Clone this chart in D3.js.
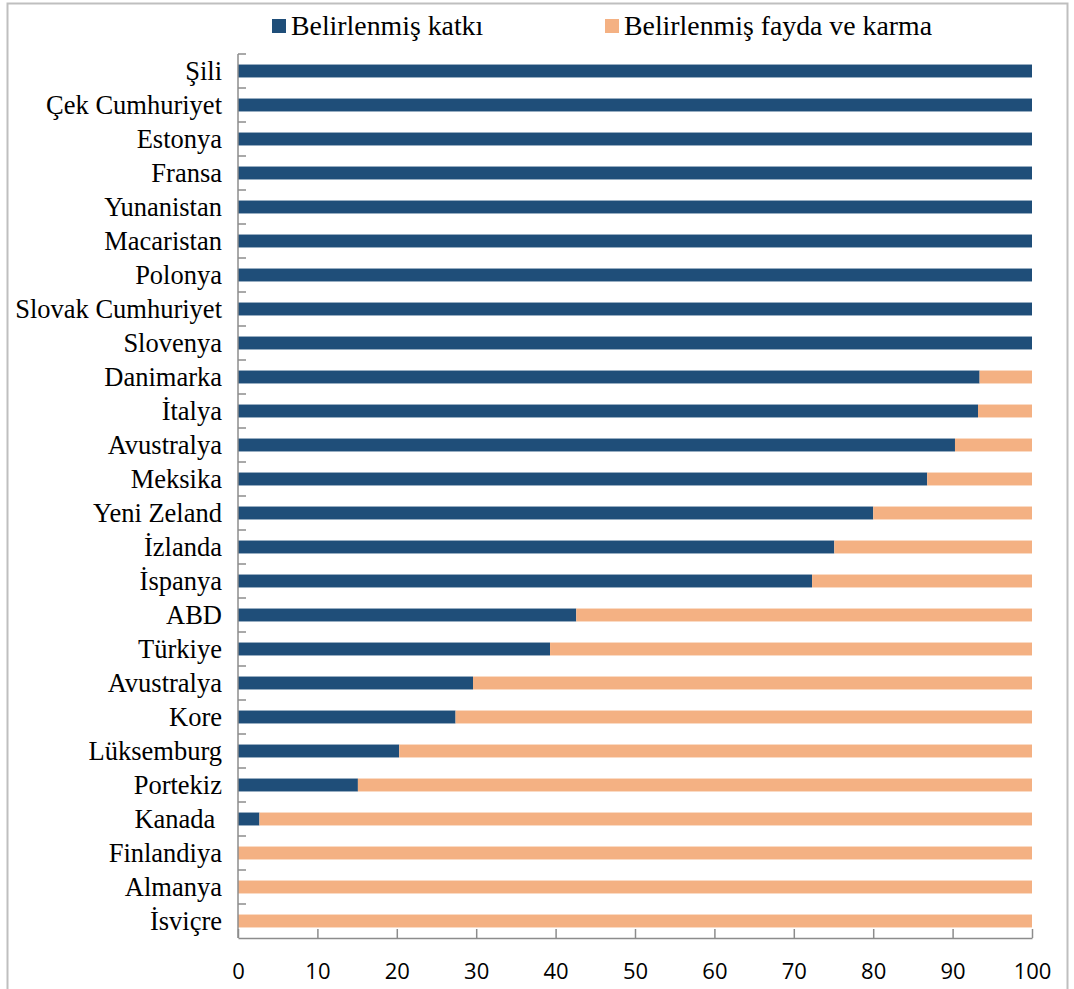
<!DOCTYPE html>
<html>
<head>
<meta charset="utf-8">
<script src="https://cdn.jsdelivr.net/npm/d3@7"></script>
<style>
  html, body { margin: 0; padding: 0; background: #fff; }
  svg { display: block; }
</style>
</head>
<body>
<svg id="chart" width="1074" height="989"></svg>
<script>
// Countries, top to bottom
const categories = [
  "Şili", "Çek Cumhuriyet", "Estonya", "Fransa", "Yunanistan", "Macaristan",
  "Polonya", "Slovak Cumhuriyet", "Slovenya", "Danimarka", "İtalya", "Avustralya",
  "Meksika", "Yeni Zeland", "İzlanda", "İspanya", "ABD", "Türkiye", "Avustralya",
  "Kore", "Lüksemburg", "Portekiz", "Kanada ", "Finlandiya", "Almanya", "İsviçre"
];

// Share of defined contribution plans (%)
const definedContribution = [
  100, 100, 100, 100, 100, 100, 100, 100, 100, 93.4, 93.2, 90.3,
  86.8, 80.0, 75.1, 72.3, 42.6, 39.3, 29.6, 27.4, 20.3, 15.1, 2.7, 0, 0, 0
];

// Share of defined benefit and hybrid plans (%)
const definedBenefit = [
  0, 0, 0, 0, 0, 0, 0, 0, 0, 6.6, 6.8, 9.7,
  13.2, 20.0, 24.9, 27.7, 57.4, 60.7, 70.4, 72.6, 79.7, 84.9, 97.3, 100, 100, 100
];

const seriesNames = ["Belirlenmiş katkı", "Belirlenmiş fayda ve karma"];
const seriesColors = ["#1F4E79", "#F4B183"];
const xTicks = [0, 10, 20, 30, 40, 50, 60, 70, 80, 90, 100];

const svg = d3.select("#chart");
const axisColor = "#8c8c8c";

// Outer chart frame
svg.append("rect")
  .attr("x", 7.5).attr("y", 3.5)
  .attr("width", 1060).attr("height", 1000)
  .attr("fill", "none")
  .attr("stroke", "#bfbfbf")
  .attr("stroke-width", 2);

const plot = { left: 238, right: 1032, top: 54, bottom: 938 };

const x = d3.scaleLinear().domain([0, 100]).range([plot.left, plot.right]);
const y = d3.scaleBand().domain(d3.range(categories.length))
  .range([plot.top, plot.bottom])
  .paddingInner(0.62).paddingOuter(0.31);

// Stacked data
const rows = categories.map((c, i) => ({ i, dc: definedContribution[i], db: definedBenefit[i] }));
const stack = d3.stack().keys(["dc", "db"])(rows);

svg.append("g").selectAll("g")
  .data(stack)
  .join("g")
  .attr("fill", (d, k) => seriesColors[k])
  .selectAll("rect")
  .data(d => d)
  .join("rect")
  .attr("x", d => x(d[0]))
  .attr("width", d => Math.max(0, x(d[1]) - x(d[0])))
  .attr("y", d => y(d.data.i))
  .attr("height", y.bandwidth());

// Category axis: line plus inward ticks at band boundaries
const band = (plot.bottom - plot.top) / categories.length;
const yAxisG = svg.append("g");
yAxisG.append("line")
  .attr("x1", plot.left).attr("x2", plot.left)
  .attr("y1", plot.top).attr("y2", plot.bottom)
  .attr("stroke", axisColor).attr("stroke-width", 1.5);
yAxisG.selectAll("line.tick")
  .data(d3.range(categories.length))
  .join("line")
  .attr("class", "tick")
  .attr("x1", plot.left).attr("x2", plot.left + 8)
  .attr("y1", i => plot.top + i * band).attr("y2", i => plot.top + i * band)
  .attr("stroke", axisColor).attr("stroke-width", 1.5);

yAxisG.selectAll("text")
  .data(categories)
  .join("text")
  .attr("x", 222)
  .attr("y", (d, i) => y(i) + y.bandwidth() / 2)
  .attr("dy", "0.33em")
  .attr("text-anchor", "end")
  .style("white-space", "pre")
  .attr("font-family", "'Liberation Serif', 'Times New Roman', serif")
  .attr("font-size", 26.5)
  .attr("fill", "#000")
  .text(d => d);

// Value axis with inward ticks
const xAxis = d3.axisBottom(x).tickValues(xTicks).tickSize(-9).tickPadding(25).tickSizeOuter(0);
const xAxisG = svg.append("g")
  .attr("transform", `translate(0,${plot.bottom})`)
  .call(xAxis);
xAxisG.select(".domain").attr("stroke", axisColor).attr("stroke-width", 1.5);
xAxisG.selectAll(".tick line").attr("stroke", axisColor).attr("stroke-width", 1.5);
xAxisG.selectAll(".tick text")
  .attr("font-family", "'Open Sans', sans-serif")
  .attr("font-size", 22)
  .attr("fill", "#000");

// Legend
const legendItems = [
  { name: seriesNames[0], color: seriesColors[0], x: 272 },
  { name: seriesNames[1], color: seriesColors[1], x: 605 }
];
const legend = svg.append("g").selectAll("g")
  .data(legendItems)
  .join("g")
  .attr("transform", d => `translate(${d.x},19)`);
legend.append("rect")
  .attr("width", 14).attr("height", 14)
  .attr("fill", d => d.color);
legend.append("text")
  .attr("x", 19).attr("y", 16)
  .attr("font-family", "'Liberation Serif', 'Times New Roman', serif")
  .attr("font-size", 27.8)
  .attr("fill", "#000")
  .text(d => d.name);
</script>
</body>
</html>
